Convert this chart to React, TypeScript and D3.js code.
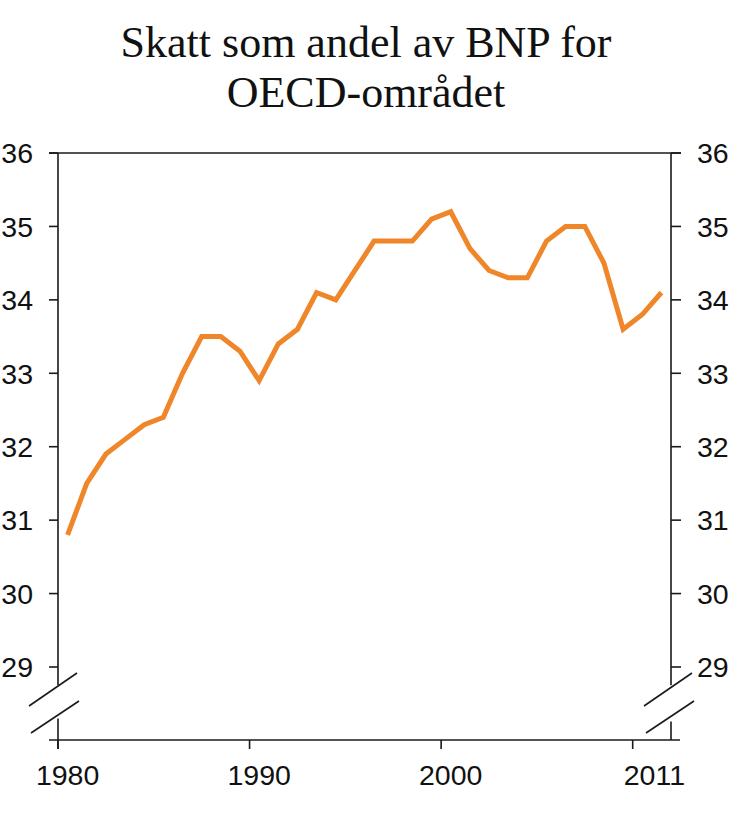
import React from "react";
import * as d3 from "d3";

const years: number[] = d3.range(1980, 2012);
const values: number[] = [
  30.8, 31.5, 31.9, 32.1, 32.3, 32.4, 33.0, 33.5, 33.5, 33.3,
  32.9, 33.4, 33.6, 34.1, 34.0, 34.4, 34.8, 34.8, 34.8, 35.1,
  35.2, 34.7, 34.4, 34.3, 34.3, 34.8, 35.0, 35.0, 34.5, 33.6,
  33.8, 34.1,
];
const yTicks: number[] = [29, 30, 31, 32, 33, 34, 35, 36];
const xTickYears: number[] = [1980, 1990, 2000, 2010];
const xLabelYears: number[] = [1980, 1990, 2000, 2011];
const titleLines: string[] = ["Skatt som andel av BNP for", "OECD-området"];

export default function App() {
  const W = 730, H = 814;
  const left = 58, right = 671, top = 153, bottomAxis = 740;
  const x = d3.scaleBand<number>().domain(years).range([left, right]).padding(0);
  const y = d3.scaleLinear().domain([29, 36]).range([667, top]);
  const cx = (yr: number) => (x(yr) as number) + x.bandwidth() / 2;

  const line = d3
    .line<number>()
    .x((_, i) => cx(years[i]))
    .y((v) => y(v))
    .curve(d3.curveLinear);

  const breakTop = y(28.75);
  const breakBottom = y(28.3);
  const font = "'Liberation Sans', Arial, sans-serif";
  const stroke = "#1a1a1a";
  const fs = 28.5;

  const slash = (ax: number, key: string) => (
    <g key={key} stroke={stroke} strokeWidth={1.6}>
      <line x1={ax - 29} y1={706} x2={ax + 19} y2={673} />
      <line x1={ax - 27} y1={733} x2={ax + 21} y2={701} />
    </g>
  );

  return (
    <svg width={W} height={H} style={{ position: "absolute", left: 0, top: 0, background: "#fff" }}>
      <rect x={0} y={0} width={W} height={H} fill="#fff" />
      {titleLines.map((t, i) => (
        <text
          key={t}
          x={366}
          y={57 + i * 50}
          textAnchor="middle"
          fontFamily="'Liberation Serif', 'Times New Roman', serif"
          fontSize={44}
          fill="#111"
        >
          {t}
        </text>
      ))}

      <line x1={left - 9} y1={top} x2={right + 10} y2={top} stroke={stroke} strokeWidth={1.6} />
      <line x1={left - 9} y1={bottomAxis} x2={right + 9} y2={bottomAxis} stroke={stroke} strokeWidth={1.6} />

      <line x1={left} y1={top} x2={left} y2={breakTop} stroke={stroke} strokeWidth={1.6} />
      <line x1={left} y1={breakBottom} x2={left} y2={bottomAxis + 9} stroke={stroke} strokeWidth={1.6} />
      <line x1={right} y1={top} x2={right} y2={breakTop} stroke={stroke} strokeWidth={1.6} />
      <line x1={right} y1={breakBottom + 3} x2={right} y2={bottomAxis} stroke={stroke} strokeWidth={1.6} />

      {slash(left, "bl")}
      {slash(right + 2, "br")}

      {yTicks.map((t) => (
        <g key={t}>
          <line x1={left - 9} y1={y(t)} x2={left} y2={y(t)} stroke={stroke} strokeWidth={1.6} />
          <line x1={right} y1={y(t)} x2={right + 10} y2={y(t)} stroke={stroke} strokeWidth={1.6} />
          <text x={33} y={y(t)} dy="0.36em" textAnchor="end" fontFamily={font} fontSize={fs} fill="#111">
            {t}
          </text>
          <text x={697} y={y(t)} dy="0.36em" textAnchor="start" fontFamily={font} fontSize={fs} fill="#111">
            {t}
          </text>
        </g>
      ))}

      {xTickYears.map((yr) => (
        <line
          key={yr}
          x1={x(yr) as number}
          y1={bottomAxis}
          x2={x(yr) as number}
          y2={bottomAxis + 9}
          stroke={stroke}
          strokeWidth={1.6}
        />
      ))}
      {xLabelYears.map((yr) => (
        <text
          key={yr}
          x={cx(yr) + (yr === 2011 ? -7 : 0)}
          y={785}
          textAnchor="middle"
          fontFamily={font}
          fontSize={fs}
          fill="#111"
        >
          {yr}
        </text>
      ))}

      <path
        d={line(values) || ""}
        fill="none"
        stroke="#F0862A"
        strokeWidth={5}
        strokeLinejoin="miter"
        strokeLinecap="butt"
      />
    </svg>
  );
}
